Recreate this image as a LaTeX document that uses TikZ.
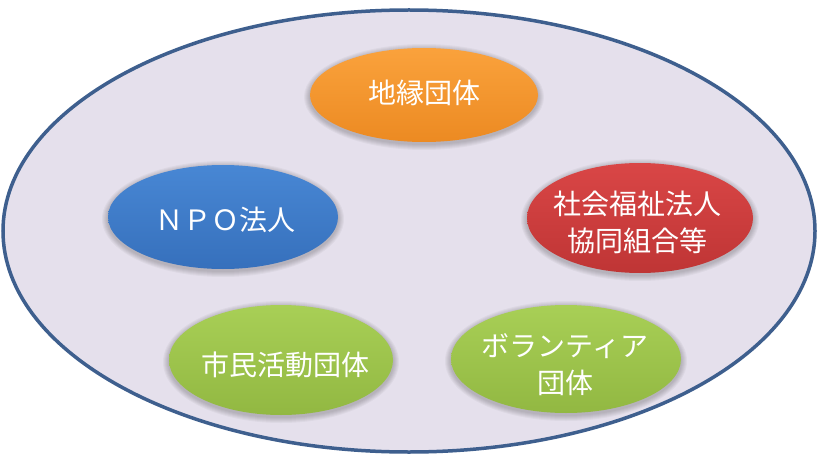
\documentclass[tikz,border=0pt]{standalone}
\usepackage{fontspec}
\newfontfamily\cjk{Noto Sans CJK JP}
\usetikzlibrary{shapes.geometric}
\definecolor{outerblue}{HTML}{3E5F8E}
\definecolor{lav}{HTML}{E5E0EC}
\definecolor{orT}{HTML}{FAA23C}
\definecolor{orB}{HTML}{EC8A22}
\definecolor{blT}{HTML}{4887D4}
\definecolor{blB}{HTML}{3670BC}
\definecolor{rdT}{HTML}{D94646}
\definecolor{rdB}{HTML}{BF3535}
\definecolor{grT}{HTML}{A8CF56}
\definecolor{grB}{HTML}{92B842}
\tikzset{
  bub/.style 2 args={top color=#1, bottom color=#2, draw=none},
  shad/.style={fill=black, opacity=0.035},
  lbl/.style={text=white, align=center, inner sep=0pt,
    font=\cjk\fontsize{28}{37}\selectfont},
}
\begin{document}
\begin{tikzpicture}[x=1pt,y=-1pt]
\useasboundingbox (0,0) rectangle (818,457);
\fill[white] (0,0) rectangle (818,457);
\draw[draw=outerblue, line width=3.5pt, fill=lav] (409,231) ellipse (406 and 221);
% shadows
\foreach \cx/\cy/\rx/\ry in {424/95/114/47, 223/217/115/52, 640/218/113/55, 281/360/112/55, 566/359/115/54}{
  \foreach \k in {1,...,6}{
    \fill[shad] (\cx,\cy+2) ellipse ({\rx+\k} and {\ry+\k});
  }
}
% bubbles
\shade[bub={orT}{orB}] (424,95) ellipse (114 and 47);
\shade[bub={blT}{blB}] (223,217) ellipse (115 and 52);
\shade[bub={rdT}{rdB}] (640,218) ellipse (113 and 55);
\shade[bub={grT}{grB}] (281,360) ellipse (112 and 55);
\shade[bub={grT}{grB}] (566,359) ellipse (115 and 54);
% labels
\node[lbl] (chien) at (424,93) {地縁団体};
\node[lbl] (npo) at (225,220) {ＮＰＯ法人};
\node[lbl] (shakai) at (637,222) {社会福祉法人\\協同組合等};
\node[lbl] (shimin) at (285,365) {市民活動団体};
\node[lbl] (vol) at (565,365) {ボランティア\\団体};
\end{tikzpicture}
\end{document}
